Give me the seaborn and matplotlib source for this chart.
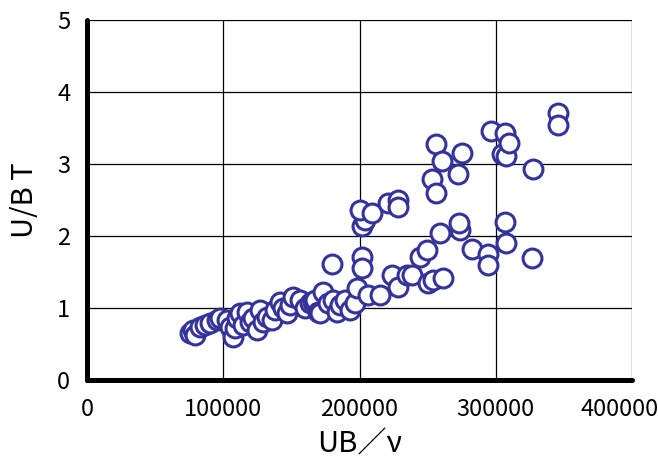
import matplotlib
matplotlib.use("Agg")
import matplotlib.pyplot as plt
import matplotlib.transforms as mtransforms
import seaborn as sns
import pandas as pd

# UB/ν values
ub_nu = [
    75600, 77800, 79200, 82900, 86600, 90200, 95400, 97600, 102700, 104900,
    107100, 108600, 110000, 112300, 114500, 117400, 119600, 121800, 124700, 126900,
    129100, 132100, 135700, 137900, 141600, 143800, 146700, 148900, 151100, 156300,
    159900, 163600, 165800, 167300, 169500, 170900, 173100, 176800, 180500, 183400,
    185600, 189300, 193000, 196600, 198100, 206200, 215000, 223800, 228200, 234800,
    238400, 244300, 249400, 250200, 253900, 261200, 259000, 273700, 272900, 282500,
    294200, 294200, 306700, 307400, 326500, 179700, 201800, 201800, 201800, 204000,
    200300, 209100, 220800, 228200, 228200, 253100, 256000, 272200, 256000, 260500,
    275100, 304500, 307400, 296400, 306700, 309600, 327200, 345600, 345600,
]
# U/B T values
ubt = [
    0.65, 0.69, 0.63, 0.74, 0.76, 0.79, 0.83, 0.86, 0.83, 0.74,
    0.60, 0.72, 0.86, 0.93, 0.76, 0.94, 0.81, 0.86, 0.69, 0.97,
    0.81, 0.88, 0.83, 0.97, 1.08, 1.00, 0.93, 1.04, 1.15, 1.11,
    1.00, 1.07, 1.08, 1.11, 0.94, 0.93, 1.22, 1.07, 1.11, 0.94,
    1.04, 1.11, 0.97, 1.07, 1.28, 1.18, 1.18, 1.46, 1.29, 1.46,
    1.46, 1.71, 1.81, 1.35, 1.39, 1.42, 2.04, 2.08, 2.18, 1.82,
    1.75, 1.60, 2.19, 1.90, 1.69, 1.61, 1.71, 1.56, 2.14, 2.22,
    2.36, 2.32, 2.46, 2.50, 2.40, 2.79, 2.60, 2.86, 3.28, 3.04,
    3.15, 3.14, 3.11, 3.46, 3.43, 3.29, 2.93, 3.71, 3.54,
]

x_ticks = [0, 100000, 200000, 300000, 400000]
y_ticks = [0, 1, 2, 3, 4, 5]

df = pd.DataFrame({"UB/ν": ub_nu, "U/B T": ubt})

sns.set_style("white")
plt.rcParams["font.family"] = ["Noto Sans CJK JP", "DejaVu Sans"]
plt.rcParams["text.color"] = "black"
plt.rcParams["axes.labelcolor"] = "black"
plt.rcParams["xtick.color"] = "black"
plt.rcParams["ytick.color"] = "black"

fig = plt.figure(figsize=(6.58, 4.69), dpi=100)
ax = fig.add_axes([87 / 658, 1 - 380 / 469, (632 - 87) / 658, (380 - 20) / 469])

ax.set_xlim(0, 400000)
ax.set_ylim(0, 5)
ax.set_xticks(x_ticks)
ax.set_yticks(y_ticks)
ax.set_xticklabels([str(v) for v in x_ticks])
ax.set_yticklabels([str(v) for v in y_ticks])
ax.grid(True, color="black", linewidth=0.9)
ax.set_axisbelow(True)

sns.scatterplot(data=df, x="UB/ν", y="U/B T", ax=ax, s=185, facecolor="white",
                edgecolor="#333399", linewidth=2.2, zorder=3, clip_on=False)

for side in ["top", "right"]:
    ax.spines[side].set_visible(False)
for side in ["left", "bottom"]:
    ax.spines[side].set_visible(True)
    ax.spines[side].set_color("black")
    ax.spines[side].set_linewidth(3.6)
    ax.spines[side].set_zorder(4)
    ax.spines[side].set_capstyle("round")

ax.tick_params(axis="both", direction="in", length=6, width=3, color="black",
               labelsize=17, pad=12)
ax.tick_params(axis="x", pad=13)

# keep the last x tick label inside the figure
last = ax.get_xticklabels()[-1]
last.set_transform(last.get_transform() +
                   mtransforms.ScaledTranslation(-12 / 100, 0, fig.dpi_scale_trans))

ax.set_xlabel("UB／ν", fontsize=21, labelpad=6)
ax.set_ylabel("U/B T", fontsize=21, labelpad=12)

fig.savefig("out.png", dpi=100)
